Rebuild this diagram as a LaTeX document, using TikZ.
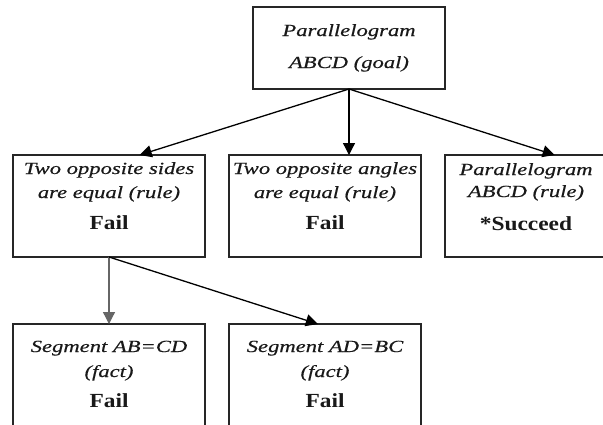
\documentclass[tikz,border=0pt]{standalone}
\usepackage{fontspec}
\setmainfont{Liberation Serif}
\newfontfamily\itf[FakeStretch=1.33,FakeBold=0.4]{Liberation Serif}
\newfontfamily\bff[FakeStretch=1.17]{Liberation Serif}
\usetikzlibrary{arrows.meta}
\begin{document}
\begin{tikzpicture}[x=1pt,y=-1pt,
  box/.style={draw=black!85,line width=1.5pt,minimum width=192pt,minimum height=102pt,inner sep=0pt,outer sep=0pt},
  itl/.style={anchor=base,inner sep=0pt,text=black!90,font=\itf\itshape\fontsize{17}{20}\selectfont},
  bld/.style={anchor=base,inner sep=0pt,text=black!90,font=\bff\bfseries\fontsize{20}{23}\selectfont},
  arr/.style={line width=1.3pt,-{Triangle[length=12pt,width=12pt]}}]
\useasboundingbox (0,0) rectangle (603,424);
\clip (0,0) rectangle (603,424);
\fill[white] (0,0) rectangle (603,424);
% boxes
\node[box,minimum height=82pt] (goal) at (349,48) {};
\node[box] (b1) at (109,206) {};
\node[box] (b2) at (325,206) {};
\node[box] (b3) at (541,206) {};
\node[box] (b4) at (109,375) {};
\node[box] (b5) at (325,375) {};
% texts
\node[itl] (g1) at (349,36) {Parallelogram};
\node[itl] (g2) at (349,68) {ABCD (goal)};
\node[itl] (t1a) at (109,174) {Two opposite sides};
\node[itl] (t1b) at (109,198) {are equal (rule)};
\node[bld] (t1c) at (109,229) {Fail};
\node[itl] (t2a) at (325,174) {Two opposite angles};
\node[itl] (t2b) at (325,198) {are equal (rule)};
\node[bld] (t2c) at (325,229) {Fail};
\node[itl] (t3a) at (526,175) {Parallelogram};
\node[itl] (t3b) at (526,197) {ABCD (rule)};
\node[bld] (t3c) at (526,230) {*Succeed};
\node[itl] (t4a) at (109,352) {Segment AB=CD};
\node[itl] (t4b) at (109,377) {(fact)};
\node[bld] (t4c) at (109,407) {Fail};
\node[itl] (t5a) at (325,352) {Segment AD=BC};
\node[itl] (t5b) at (325,377) {(fact)};
\node[bld] (t5c) at (325,407) {Fail};
% arrows
\draw[arr] (goal.south) -- (b1.59);
\draw[arr] (goal.south) -- (goal.south |- b2.north);
\draw[arr] (goal.south) -- (b3.75);
\draw[arr,draw=black!60] (b1.south) -- (b4.north);
\draw[arr] (b1.south) -- (b5.98);
\end{tikzpicture}
\end{document}
